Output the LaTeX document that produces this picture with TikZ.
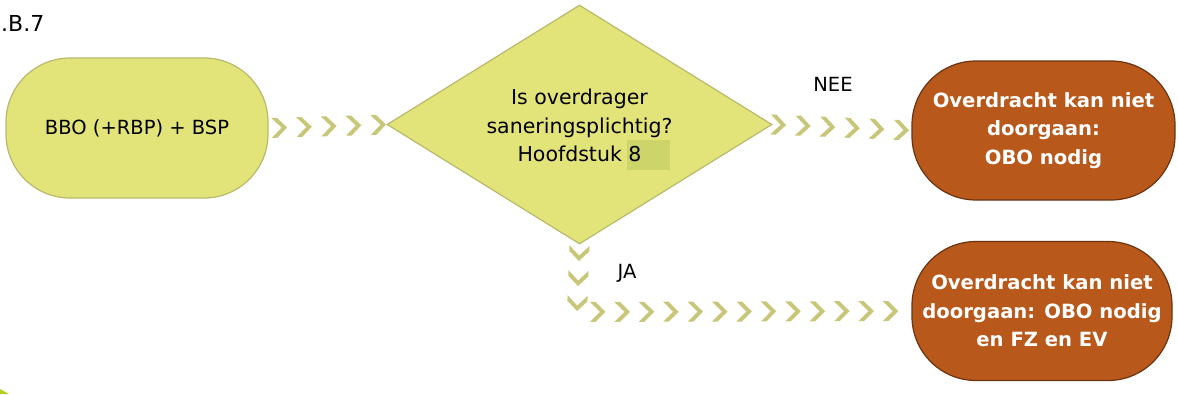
\documentclass[tikz,border=0pt]{standalone}
\usepackage{fontspec}
\setmainfont{DejaVu Sans}
\usetikzlibrary{shapes.geometric,decorations.markings}

\definecolor{paleFill}{HTML}{E2E47A}
\definecolor{paleLine}{HTML}{B9B96C}
\definecolor{chev}{HTML}{C8C678}
\definecolor{rustFill}{HTML}{B8581A}
\definecolor{rustLine}{HTML}{6B3412}
\definecolor{fieldHl}{HTML}{CDD56A}
\definecolor{limeEdge}{HTML}{B8CC1E}

\tikzset{
  startbox/.style={draw=paleLine, line width=1.2pt, fill=paleFill, rounded corners=64pt,
    minimum width=262pt, minimum height=140pt, inner sep=0pt, align=center,
    font=\fontsize{19.5}{27}\selectfont},
  decision/.style={draw=paleLine, line width=1.2pt, fill=paleFill, diamond, shape aspect=1.6,
    minimum width=385pt, minimum height=239pt, inner sep=0pt},
  qtext/.style={align=center, inner sep=0pt, font=\fontsize{20.5}{28.5}\selectfont},
  endbox/.style={draw=rustLine, line width=1.2pt, fill=rustFill, rounded corners=64pt,
    text=white, minimum height=139pt, inner sep=0pt, align=center,
    font=\bfseries\fontsize{19.6}{28.5}\selectfont},
  lbl/.style={font=\fontsize{19.5}{24}\selectfont, inner sep=0pt},
  chevron/.pic={\fill[chev] (-7pt,-10pt) -- (-1.5pt,-10pt) -- (8.5pt,0pt)
      -- (-1.5pt,10pt) -- (-7pt,10pt) -- (3pt,0pt) -- cycle;},
  chain/.style n args={3}{postaction={decorate}, decoration={markings,
      mark=between positions #1 and #2 step #3 with {\pic[transform shape]{chevron};}}}
}

\begin{document}
\begin{tikzpicture}[x=1pt, y=-1pt]
  \useasboundingbox (0,0) rectangle (1178,394);

  % section label in the upper left corner
  \node[lbl, font=\fontsize{22}{26}\selectfont, anchor=base west] (sec) at (1,31) {.B.7};

  % flow nodes
  \node[startbox] (start) at (137,128) {BBO (+RBP) + BSP};
  \node[decision] (q) at (579.5,124.5) {};
  \node[qtext] (qt) at (579.5,129.5)
    {Is overdrager\\saneringsplichtig?\\Hoofdstuk~\makebox[0pt][l]{\hspace{-1pt}\color{fieldHl}\rule[-8pt]{43pt}{30pt}}8};
  \node[endbox, minimum width=263pt] (no) at (1043.5,130.5)
    {Overdracht kan niet\\doorgaan:\\OBO nodig};
  \node[endbox, minimum width=260pt] (yes) at (1042,311)
    {Overdracht kan niet\\doorgaan: OBO nodig\\en FZ en EV};

  % chevron connectors
  \coordinate (turn) at (577,312);
  \path[chain={10pt}{110pt}{24.75pt}] (start.east) -- (q.west);
  \path[chain={5pt}{130pt}{24.6pt}] (q.east) -- (no.west);
  \path[chain={8pt}{59pt}{25pt}] (q.south) -- (turn);
  \path[chain={20pt}{314pt}{24.4pt}] (turn) -- (yes.west);

  % branch labels
  \node[lbl] (nee) at (833,84) {NEE};
  \node[lbl] (ja) at (627,273) {JA};

  % sliver of a shape entering at the lower left corner
  \fill[limeEdge] (0,389) -- (9,394) -- (0,394) -- cycle;
\end{tikzpicture}
\end{document}
